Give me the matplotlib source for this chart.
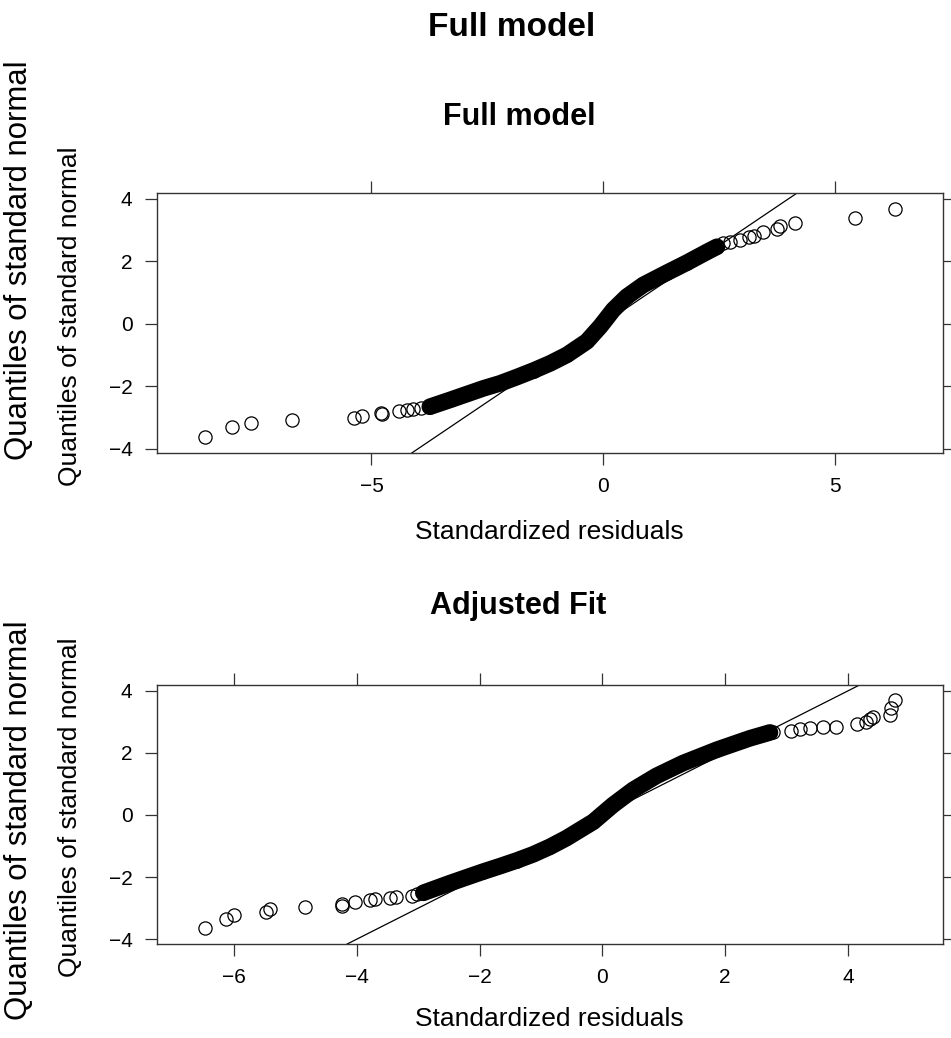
import numpy as np
import matplotlib.pyplot as plt

plt.rcParams['font.family'] = ['Liberation Sans', 'DejaVu Sans']

# ---- dados (residuos padronizados x quantis da normal) ----

# modelo completo: caudas (pontos isolados)
full_tail_x = [-8.60, -8.02, -7.61, -6.72, -5.38, -5.20, -4.79, -4.77, -4.40, -4.23, -4.10, -3.92,
               2.60, 2.74, 2.96, 3.15, 3.25, 3.46, 3.75, 3.82, 4.15, 5.44, 6.31]
full_tail_y = [-3.62, -3.31, -3.18, -3.07, -3.01, -2.94, -2.86, -2.88, -2.80, -2.75, -2.73, -2.68,
               2.58, 2.63, 2.69, 2.77, 2.80, 2.93, 3.04, 3.14, 3.24, 3.38, 3.68]
# modelo completo: miolo (pontos sobrepostos)
full_body_x = [-3.74, -3.30, -2.58, -2.22, -1.86, -1.50, -1.14, -0.78, -0.35, -0.06,
               0.22, 0.51, 0.87, 1.38, 1.81, 2.25, 2.46]
full_body_y = [-2.65, -2.43, -2.06, -1.90, -1.70, -1.49, -1.26, -0.99, -0.56, -0.08,
               0.45, 0.87, 1.25, 1.64, 1.96, 2.31, 2.47]

# ajuste corrigido
adj_tail_x = [-6.48, -6.13, -6.01, -5.49, -5.42, -4.85, -4.25, -4.24, -4.04, -3.79, -3.71,
              -3.46, -3.37, -3.11, -3.03,
              2.78, 3.08, 3.22, 3.38, 3.59, 3.80, 4.15, 4.30, 4.36, 4.41, 4.68, 4.71, 4.76]
adj_tail_y = [-3.66, -3.37, -3.23, -3.12, -3.04, -2.98, -2.94, -2.88, -2.80, -2.74, -2.72,
              -2.69, -2.66, -2.61, -2.55,
              2.69, 2.72, 2.76, 2.80, 2.83, 2.85, 2.93, 3.01, 3.09, 3.17, 3.23, 3.44, 3.71]
adj_body_x = [-2.92, -2.49, -1.95, -1.67, -1.40, -1.13, -0.86, -0.59, -0.15, 0.17,
              0.50, 0.88, 1.31, 1.86, 2.40, 2.73]
adj_body_y = [-2.51, -2.20, -1.83, -1.65, -1.47, -1.27, -1.03, -0.75, -0.22, 0.32,
              0.81, 1.26, 1.67, 2.10, 2.47, 2.66]

# reta de referencia y = a + b*x
linha_a = 0.0
linha_b = 1.0

ticks_x1 = [-5, 0, 5]
ticks_x2 = [-6, -4, -2, 0, 2, 4]
ticks_y = [-4, -2, 0, 2, 4]

W, H = 951, 1038
fig = plt.figure(figsize=(W / 100, H / 100), dpi=100)

def painel(rect, tx, ty, bx, by, xt, xlim, ylim):
    ax = fig.add_axes(rect)
    # miolo denso: faixa preta de circulos sobrepostos
    ax.plot(bx, by, color='black', lw=12, solid_capstyle='round', solid_joinstyle='round')
    ax.plot(bx, by, 'o', ms=9.5, mfc='none', mec='black', mew=0.9, ls='none')
    ax.plot(tx, ty, 'o', ms=9.5, mfc='none', mec='black', mew=0.9, ls='none')
    ax.axline((0, linha_a), slope=linha_b, color='black', lw=0.9)
    ax.set_xlim(*xlim)
    ax.set_ylim(*ylim)
    ax.set_xticks(xt)
    ax.set_yticks(ticks_y)
    ax.tick_params(direction='out', top=True, right=True, length=8.6, width=0.9,
                   pad=9, labelsize=15, color='#333333')
    for s in ax.spines.values():
        s.set_color('#333333')
        s.set_linewidth(1.0)
    return ax

painel([157 / W, 1 - 453 / H, 786 / W, 260 / H], full_tail_x, full_tail_y,
       full_body_x, full_body_y, ticks_x1, (-9.63, 7.34), (-4.13, 4.19))
painel([157 / W, 1 - 944 / H, 786 / W, 259 / H], adj_tail_x, adj_tail_y,
       adj_body_x, adj_body_y, ticks_x2, (-7.26, 5.55), (-4.16, 4.19))

fig.text(512 / W, 1 - 28 / H, 'Full model', ha='center', va='center', fontsize=24, fontweight='bold')
fig.text(519 / W, 1 - 117 / H, 'Full model', ha='center', va='center', fontsize=22, fontweight='bold')
fig.text(518 / W, 1 - 606 / H, 'Adjusted Fit', ha='center', va='center', fontsize=22, fontweight='bold')

for yc in (260, 820):
    fig.text(19 / W, 1 - yc / H, 'Quantiles of standard normal', rotation=90,
             ha='center', va='center', fontsize=22.4)
for yc in (316, 807):
    fig.text(70 / W, 1 - yc / H, 'Quantiles of standard normal', rotation=90,
             ha='center', va='center', fontsize=19)
for yc in (532, 1019):
    fig.text(549 / W, 1 - yc / H, 'Standardized residuals', ha='center', va='center', fontsize=19)

fig.savefig('out.png', dpi=100)
